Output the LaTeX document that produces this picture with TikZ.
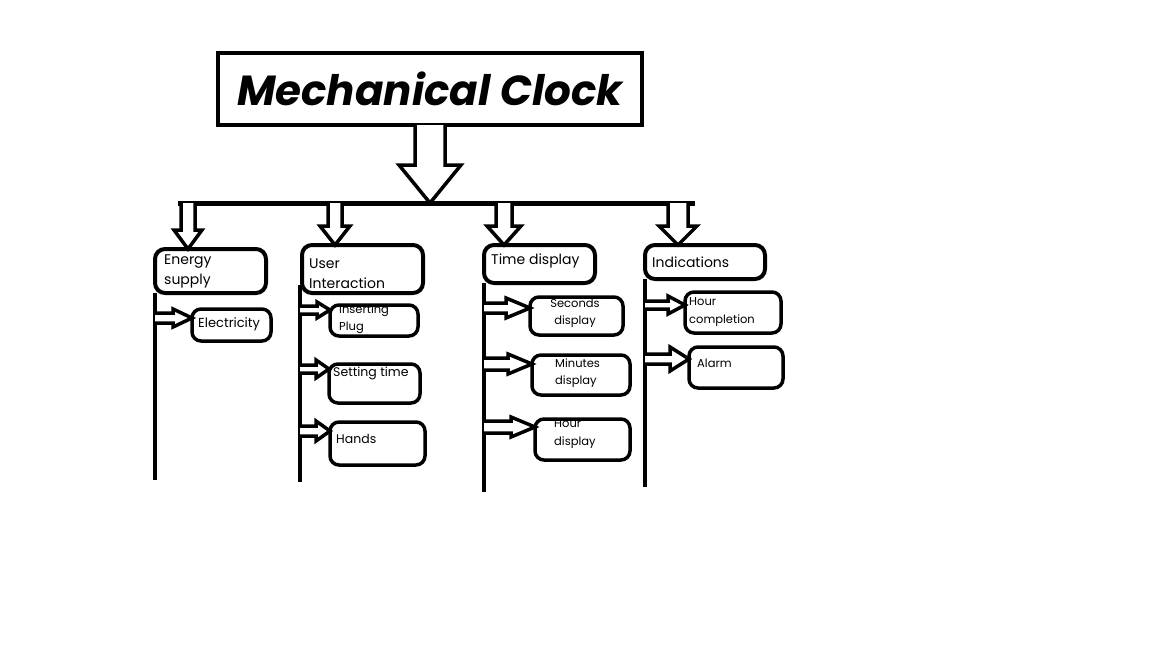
\documentclass[tikz,border=0pt]{standalone}
\usepackage{fontspec}
\setmainfont{Poppins}
\usetikzlibrary{calc}

\tikzset{
	titlebox/.style={draw, line width=4pt, inner sep=0pt, outer sep=0pt, font=\fontsize{42}{48}\selectfont\bfseries\itshape},
	catbox/.style  ={draw, line width=4pt, rounded corners=10pt, anchor=north west, inner sep=0pt, outer sep=0pt},
	subbox/.style  ={draw, line width=3.5pt, rounded corners=9pt, anchor=north west, inner sep=0pt, outer sep=0pt},
	cattxt/.style  ={anchor=west, align=left, inner sep=0pt, font=\fontsize{14}{20}\selectfont},
	subtxt/.style  ={anchor=west, align=left, inner sep=0pt, font=\fontsize{11.5}{17.5}\selectfont},
	trunk/.style   ={line width=4.5pt},
	fatarrow/.style={draw, fill=white, line width=3.5pt, line join=miter},
}
% hollow arrows: start, target, shaft half width, head half width, head length
\newcommand{\downfat}[5]{%
	\draw[fatarrow] ($(#1)+(-#3,0)$) -- ($(#1 |- #2)+(-#3,-#5)$) -- ($(#1 |- #2)+(-#4,-#5)$) -- (#1 |- #2)
		-- ($(#1 |- #2)+(#4,-#5)$) -- ($(#1 |- #2)+(#3,-#5)$) -- ($(#1)+(#3,0)$);}
\newcommand{\rightfat}[5]{%
	\draw[fatarrow] ($(#1)+(0,-#3)$) -- ($(#1 -| #2)+(-#5,-#3)$) -- ($(#1 -| #2)+(-#5,-#4)$) -- (#1 -| #2)
		-- ($(#1 -| #2)+(-#5,#4)$) -- ($(#1 -| #2)+(-#5,#3)$) -- ($(#1)+(0,#3)$);}

\begin{document}
\begin{tikzpicture}[x=1pt, y=-1pt]
	\useasboundingbox (0,0) rectangle (1152,648);

	% top
	\node[titlebox, minimum width=424pt, minimum height=72pt] (title) at (430,89) {Mechanical Clock};
	\coordinate (barL) at (178,203);
	\coordinate (barR) at (695,203);
	\coordinate (bigTip) at (430,203);
	\draw[trunk, line width=5pt] (barL) -- (barR);
	\downfat{title.south}{bigTip}{15}{31}{38}

	% categories
	\node[catbox, minimum width=111pt, minimum height=44pt] (en) at (155,249) {};
	\node[catbox, minimum width=121pt, minimum height=48pt] (ui) at (302,245) {};
	\node[catbox, minimum width=111pt, minimum height=38pt] (td) at (484,245) {};
	\node[catbox, minimum width=120pt, minimum height=34pt] (ind) at (645,245) {};
	\node[cattxt] (en-t) at (164,271) {Energy\\supply};
	\node[cattxt] (ui-t) at (309,274) {User\\Interaction};
	\node[cattxt] (td-t) at (491,261) {Time display};
	\node[cattxt] (ind-t) at (652,262) {Indications};

	\coordinate (b1) at (188,203);
	\coordinate (b2) at (335,203);
	\coordinate (b3) at (504,203);
	\coordinate (b4) at (678,203);
	\downfat{b1}{en.north}{7}{14}{19}
	\downfat{b2}{ui.north}{7}{15}{19}
	\downfat{b3}{td.north}{8}{17}{19}
	\downfat{b4}{ind.north}{10}{19}{19}

	% trunks
	\coordinate (uiTop) at (300,285);
	\coordinate (enBot) at (155,480);
	\coordinate (uiBot) at (300,482);
	\coordinate (tdBot) at (484,492);
	\coordinate (indBot) at (645,487);
	\draw[trunk] (en.south west) -- (enBot);
	\draw[trunk] (uiTop) -- (uiBot);
	\draw[trunk] (td.south west) -- (tdBot);
	\draw[trunk] (ind.south west) -- (indBot);

	% sub items
	\node[subbox, minimum width=79pt, minimum height=32pt] (elec) at (192,309) {};
	\node[subbox, minimum width=88pt, minimum height=31pt] (plug) at (330,305) {};
	\node[subbox, minimum width=91pt, minimum height=39pt] (settime) at (329,364) {};
	\node[subbox, minimum width=95pt, minimum height=43pt] (hands) at (330,422) {};
	\node[subbox, minimum width=93pt, minimum height=38pt] (secs) at (530,297) {};
	\node[subbox, minimum width=98pt, minimum height=40pt] (mins) at (532,355) {};
	\node[subbox, minimum width=95pt, minimum height=41pt] (hourd) at (535,419) {};
	\node[subbox, minimum width=96pt, minimum height=41pt] (hcomp) at (685,292) {};
	\node[subbox, minimum width=94pt, minimum height=41pt] (alarm) at (689,347) {};

	\node[subtxt, font=\fontsize{13}{17.5}\selectfont] (elec-t) at (198,324) {Electricity};
	\node[subtxt] (plug-t) at (339,319) {Inserting\\Plug};
	\node[subtxt, font=\fontsize{12.5}{17.5}\selectfont] (settime-t) at (333,373) {Setting time};
	\node[subtxt, font=\fontsize{12.5}{17.5}\selectfont] (hands-t) at (336,439) {Hands};
	\node[subtxt, anchor=center, align=center] (secs-t) at (575,313) {Seconds\\display};
	\node[subtxt] (mins-t) at (555,373) {Minutes\\display};
	\node[subtxt] (hourd-t) at (554,434) {Hour\\display};
	\node[subtxt] (hcomp-t) at (689,312) {Hour\\completion};
	\node[subtxt] (alarm-t) at (697,363) {Alarm};

	\coordinate (a1) at (155,318);
	\coordinate (a2) at (300,310);
	\coordinate (a3) at (300,369);
	\coordinate (a4) at (300,431);
	\coordinate (a5) at (484,308);
	\coordinate (a6) at (484,364);
	\coordinate (a7) at (484,427);
	\coordinate (a8) at (645,305);
	\coordinate (a9) at (645,359);
	\rightfat{a1}{elec.west}{5}{9}{19}
	\rightfat{a2}{plug.west}{4}{8}{13}
	\rightfat{a3}{settime.west}{4}{9}{13}
	\rightfat{a4}{hands.west}{5}{10}{14}
	\rightfat{a5}{secs.west}{5}{10}{24}
	\rightfat{a6}{mins.west}{6}{10}{24}
	\rightfat{a7}{hourd.west}{6}{10}{24}
	\rightfat{a8}{hcomp.west}{4}{9}{17}
	\rightfat{a9}{alarm.west}{5}{12}{19}
\end{tikzpicture}
\end{document}
